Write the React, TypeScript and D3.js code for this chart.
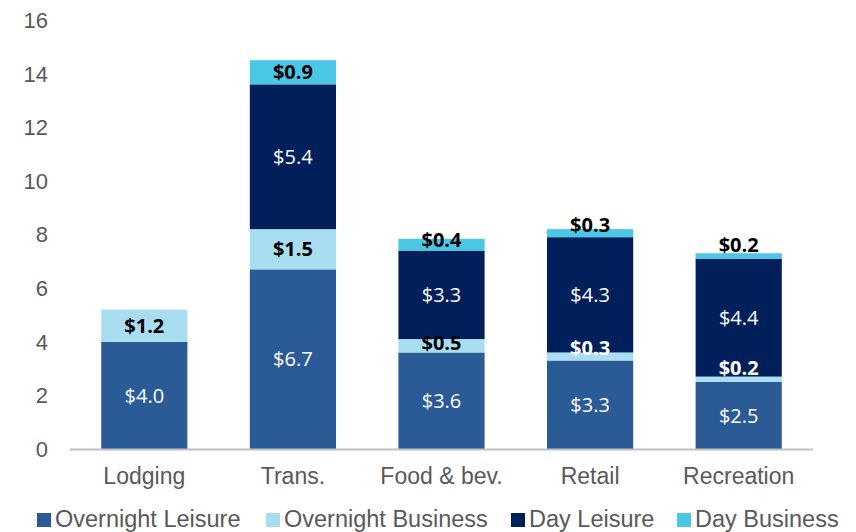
import React from "react";
import * as d3 from "d3";

const categories = ["Lodging", "Trans.", "Food & bev.", "Retail", "Recreation"];
const seriesNames = ["Overnight Leisure", "Overnight Business", "Day Leisure", "Day Business"];
const overnightLeisure = [4.0, 6.7, 3.6, 3.3, 2.5];
const overnightBusiness = [1.2, 1.5, 0.5, 0.3, 0.2];
const dayLeisure = [0, 5.4, 3.3, 4.3, 4.4];
const dayBusiness = [0, 0.9, 0.44, 0.3, 0.2];
const yTicks = [0, 2, 4, 6, 8, 10, 12, 14, 16];

const colors = ["#2a5b97", "#a9def2", "#001f5b", "#4ac6e6"];
// labels of small segments drawn in white (overlapping the dark bar part)
const whiteSmallLabels = new Set(["Retail|1", "Recreation|1"]);

const W = 856, H = 532;
const M = { left: 70, right: 813, top: 20, bottom: 449 };

export default function App() {
  const series = [overnightLeisure, overnightBusiness, dayLeisure, dayBusiness];
  const x = d3.scaleBand<string>().domain(categories).range([M.left, M.right]).paddingInner(0.42).paddingOuter(0.21);
  const y = d3.scaleLinear().domain([0, 16]).range([M.bottom, M.top]);

  const table = categories.map((c, i) => {
    const row: any = { cat: c };
    seriesNames.forEach((s, k) => (row[s] = series[k][i]));
    return row;
  });
  const stacked = d3.stack<any>().keys(seriesNames)(table);

  const legendX = [37, 266, 511, 677];
  const labelFont = "'Open Sans', 'DejaVu Sans', sans-serif";
  const axisFont = "'Liberation Sans', Arial, sans-serif";

  return (
    <div style={{ position: "absolute", left: 0, top: 0 }}>
      <svg width={W} height={H} style={{ display: "block", background: "#fff" }}>
        {yTicks.map((t) => (
          <text key={t} x={48} y={y(t)} dy="0.36em" textAnchor="end" fontFamily={axisFont} fontSize={22} fill="#595959">
            {t}
          </text>
        ))}
        {stacked.map((layer, k) => (
          <g key={layer.key}>
            {layer.map((d, i) => {
              const v = series[k][i];
              if (!v) return null;
              return (
                <rect key={i} x={x(categories[i])} width={x.bandwidth()} y={y(d[1])} height={y(d[0]) - y(d[1])} fill={colors[k]} />
              );
            })}
          </g>
        ))}
        {stacked.map((layer, k) => (
          <g key={"l" + layer.key}>
            {layer.map((d, i) => {
              const v = series[k][i];
              if (!v) return null;
              const cx = (x(categories[i]) as number) + x.bandwidth() / 2;
              const center = (y(d[0]) + y(d[1])) / 2 - Math.max(0, 0.6 - v) * 28;
              const small = k === 1 || k === 3;
              const fill = !small || whiteSmallLabels.has(categories[i] + "|" + k) ? "#fff" : "#000";
              return (
                <text key={i} x={cx} y={center} dy="0.36em" textAnchor="middle" fontFamily={labelFont} fontSize={20} fontWeight={small ? 700 : 400} fill={fill}>
                  {"$" + v.toFixed(1)}
                </text>
              );
            })}
          </g>
        ))}
        <line x1={M.left} x2={M.right} y1={M.bottom + 0.5} y2={M.bottom + 0.5} stroke="#bfbfbf" strokeWidth={2} />
        {categories.map((c) => (
          <text key={c} x={(x(c) as number) + x.bandwidth() / 2} y={484} textAnchor="middle" fontFamily={axisFont} fontSize={23} fill="#595959">
            {c}
          </text>
        ))}
        {seriesNames.map((s, k) => (
          <g key={s} transform={`translate(${legendX[k]},0)`}>
            <rect x={0} y={513} width={14} height={14} fill={colors[k]} />
            <text x={18} y={527} fontFamily={axisFont} fontSize={23.5} fill="#595959">
              {s}
            </text>
          </g>
        ))}
      </svg>
    </div>
  );
}
